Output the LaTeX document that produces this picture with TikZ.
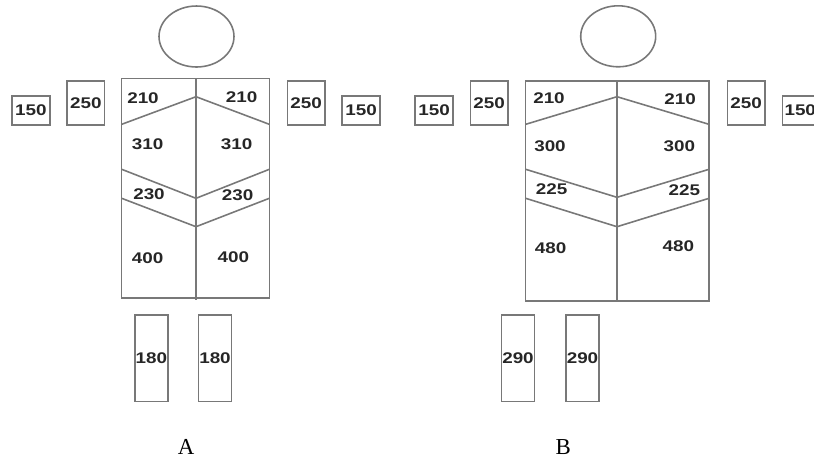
\documentclass[tikz,border=0pt]{standalone}
\usepackage{fontspec}
\setmainfont{Liberation Serif}
\newfontfamily\numfont[FakeStretch=1.22]{Liberation Sans Bold}
\usetikzlibrary{shapes.geometric}
\definecolor{bodygray}{RGB}{120,120,120}
\tikzset{%
    part/.style={draw=bodygray, line width=0.9pt},
    head/.style={ellipse, draw=bodygray, line width=0.9pt, inner sep=0pt, minimum width=1.5cm, minimum height=1.22cm},
    box/.style={rectangle, draw=bodygray, line width=0.9pt, inner sep=0pt, text=black!85, font=\numfont\fontsize{8.8}{10}\selectfont},
    arm/.style={box, minimum width=0.76cm, minimum height=0.58cm},
    sho/.style={box, minimum width=0.75cm, minimum height=0.88cm},
    leg/.style={box, minimum width=0.66cm, minimum height=1.73cm},
    num/.style={inner sep=0pt, text=black!85, font=\numfont\fontsize{8.8}{10}\selectfont},
    lettr/.style={inner sep=0pt, font=\fontsize{13}{14}\selectfont}
}

\begin{document}
\begin{tikzpicture}[x=0.02cm, y=-0.02cm]
    \clip (0,0) rectangle (814,461);
    \useasboundingbox (0,0) rectangle (814,461);
    % figure A
    \node[head] (headA) at (196.5,36.5) {};
    \draw [part] (121.7,78.3) rectangle (269.3,297.7);
    \draw [part] (196,78.3) -- (196,300);
    \draw [part] (121.7,124.3) -- (196,96.7) -- (269.3,124.3);
    \draw [part] (121.7,169.3) -- (196,198.3) -- (269.3,169.3);
    \draw [part] (121.7,198.3) -- (196,226.7) -- (269.3,198.3);
    \node[arm] (armLA) at (30.8,110.5) {150};
    \node[sho] (shoLA) at (85.8,103) {\raisebox{-4pt}{250}};
    \node[sho] (shoRA) at (306.2,103) {\raisebox{-3pt}{250}};
    \node[arm] (armRA) at (361.2,110.5) {150};
    \node[num] (n1LA) at (143,97.7) {210};
    \node[num] (n1RA) at (241.7,96.7) {210};
    \node[num] (n2LA) at (147.7,144.3) {310};
    \node[num] (n2RA) at (236.7,144.3) {310};
    \node[num] (n3LA) at (149,194) {230};
    \node[num] (n3RA) at (237.7,195) {230};
    \node[num] (n4LA) at (147.7,257.7) {400};
    \node[num] (n4RA) at (233.3,256.7) {400};
    \node[leg] (legLA) at (151.3,358.3) {180};
    \node[leg] (legRA) at (215,358.3) {180};
    \node[lettr] (capA) at (186,446.7) {A};
    % figure B
    \node[head] (headB) at (618.2,36.3) {};
    \draw [part] (525.7,81) rectangle (709,301);
    \draw [part] (617,81) -- (617,301);
    \draw [part] (525.7,124.3) -- (617,96.7) -- (709,124.3);
    \draw [part] (525.7,169.3) -- (617,197.3) -- (709,169.3);
    \draw [part] (525.7,198.3) -- (617,226.7) -- (709,198.3);
    \node[arm] (armLB) at (434.2,110.5) {150};
    \node[sho] (shoLB) at (489.2,103) {\raisebox{-2pt}{250}};
    \node[sho] (shoRB) at (746.2,103) {\raisebox{-2pt}{250}};
    \node[arm] (armRB) at (801.3,110.5) {};
    \node[num, anchor=west] (n5RB) at ([xshift=1.5pt]armRB.west) {150};
    \node[num] (n1LB) at (549,97.7) {210};
    \node[num] (n1RB) at (680,99) {210};
    \node[num] (n2LB) at (550,145.7) {300};
    \node[num] (n2RB) at (679.3,145.7) {300};
    \node[num] (n3LB) at (551.7,189.3) {225};
    \node[num] (n3RB) at (684.3,190) {225};
    \node[num] (n4LB) at (550.7,247.7) {480};
    \node[num] (n4RB) at (678.3,245.7) {480};
    \node[leg] (legLB) at (518,358.3) {290};
    \node[leg] (legRB) at (582.5,358.3) {290};
    \node[lettr] (capB) at (563.3,446.7) {B};
\end{tikzpicture}
\end{document}
